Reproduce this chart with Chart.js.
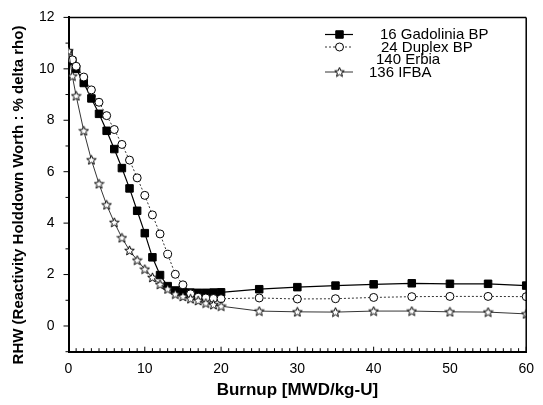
<!DOCTYPE html>
<html>
<head>
<meta charset="utf-8">
<script src="https://cdn.jsdelivr.net/npm/chart.js@4.4.1/dist/chart.umd.min.js"></script>
<style>
  html, body { margin: 0; padding: 0; background: #fff; }
  #wrap { width: 543px; height: 405px; }
</style>
</head>
<body>
<div id="wrap"><canvas id="myChart" width="543" height="405"></canvas></div>
<script>
	// burnup steps (MWD/kg-U)
	const burnup = [0, 0.5, 1, 2, 3, 4, 5, 6, 7, 8, 9, 10, 11, 12, 13, 14, 15, 16, 17, 18, 19, 20, 25, 30, 35, 40, 45, 50, 55, 60];

	// RHW (% delta rho)
	const gadoliniaRHW = [10.6, 10.3, 10.0, 9.45, 8.85, 8.25, 7.59, 6.88, 6.14, 5.35, 4.48, 3.61, 2.67, 1.98, 1.55, 1.38, 1.33, 1.30, 1.29, 1.29, 1.30, 1.31, 1.43, 1.51, 1.57, 1.62, 1.66, 1.64, 1.64, 1.57];
	const duplexRHW = [10.55, 10.35, 10.1, 9.68, 9.18, 8.70, 8.18, 7.64, 7.06, 6.45, 5.76, 5.08, 4.32, 3.58, 2.79, 2.01, 1.60, 1.25, 1.12, 1.09, 1.07, 1.06, 1.09, 1.05, 1.06, 1.11, 1.14, 1.15, 1.15, 1.14];
	const erbiaRHW = []; // in the legend only, no curve drawn
	const ifbaRHW = [10.7, 9.72, 8.95, 7.59, 6.46, 5.53, 4.71, 4.03, 3.43, 2.94, 2.56, 2.21, 1.89, 1.62, 1.44, 1.24, 1.15, 1.06, 0.99, 0.89, 0.83, 0.77, 0.58, 0.55, 0.54, 0.58, 0.58, 0.55, 0.54, 0.47];

	const seriesLabels = ['16 Gadolinia BP', '24 Duplex BP', '140 Erbia', '136 IFBA'];

	const xTickLabels = [0, 10, 20, 30, 40, 50, 60];
	const yTickLabels = [0, 2, 4, 6, 8, 10, 12];

	const yTitle = 'RHW (Reactivity Holddown Worth : % delta rho)';
	const FONT = 'Arial, "Liberation Sans", sans-serif';

	// open 5 point star marker
	function makeStar() {
		const c = document.createElement('canvas');
		c.width = 11; c.height = 11;
		const g = c.getContext('2d');
		g.beginPath();
		for (let i = 0; i < 10; i++) {
			const r = i % 2 ? 2.2 : 5;
			const a = -Math.PI / 2 + i * Math.PI / 5;
			g.lineTo(5.5 + r * Math.cos(a), 5.9 + r * Math.sin(a));
		}
		g.closePath();
		g.fillStyle = '#fff';
		g.fill();
		g.lineWidth = 1;
		g.strokeStyle = '#000';
		g.stroke();
		return c;
	}
	const starImg = makeStar();

	function toPoints(arr) {
		return arr.map((v, i) => ({ x: burnup[i], y: v }));
	}

	// frame, tick marks, y title and the legend
	const framePlugin = {
		id: 'frame',
		afterDraw(chart) {
			const { ctx, chartArea: a, scales } = chart;
			ctx.save();
			ctx.strokeStyle = '#000';
			ctx.lineWidth = 1.5;
			ctx.beginPath();
			ctx.moveTo(a.left, a.top); ctx.lineTo(a.right, a.top);
			ctx.moveTo(a.right, a.top); ctx.lineTo(a.right, a.bottom);
			ctx.stroke();

			ctx.lineWidth = 1;
			ctx.beginPath();
			for (let v = 0; v <= 60; v++) {
				const px = scales.x.getPixelForValue(v);
				const len = v % 10 === 0 ? 5 : 3.5;
				ctx.moveTo(px, a.bottom); ctx.lineTo(px, a.bottom - len);
			}
			for (let v = -1; v <= 12; v++) {
				const py = scales.y.getPixelForValue(v);
				const len = v % 2 === 0 ? 5 : 3;
				ctx.moveTo(a.left, py); ctx.lineTo(a.left - len, py);
			}
			ctx.stroke();

			// y axis title
			ctx.save();
			ctx.translate(19, 195);
			ctx.rotate(-Math.PI / 2);
			ctx.font = 'bold 15px ' + FONT;
			ctx.fillStyle = '#000';
			ctx.textAlign = 'center';
			ctx.textBaseline = 'middle';
			ctx.fillText(yTitle, 0, 0);
			ctx.restore();

			// legend
			const rowY = [34.5, 47, 59.5, 72];
			const textX = [380, 381, 376, 369];
			ctx.font = '15px ' + FONT;
			ctx.textBaseline = 'middle';
			chart.data.datasets.forEach((ds, i) => {
				const y = rowY[i];
				if (ds.data.length) {
					ctx.save();
					ctx.strokeStyle = '#000';
					ctx.lineWidth = ds.borderWidth;
					ctx.setLineDash(ds.borderDash || []);
					ctx.beginPath();
					ctx.moveTo(325, y); ctx.lineTo(353, y);
					ctx.stroke();
					ctx.restore();
					ctx.fillStyle = ds.pointBackgroundColor || '#fff';
					ctx.strokeStyle = '#000';
					Chart.helpers.drawPoint(ctx, {
						pointStyle: ds.pointStyle,
						radius: ds.pointRadius,
						rotation: 0,
						borderWidth: ds.pointBorderWidth
					}, 339.5, y);
				}
				ctx.fillStyle = '#000';
				ctx.fillText(ds.label, textX[i], y + 0.5);
			});
			ctx.restore();
		}
	};

	const ctx = document.querySelector('#myChart');
	const rhwChart = new Chart(ctx, {
		type: 'line',
		data: {
			datasets: [
				{
					label: seriesLabels[0],
					data: toPoints(gadoliniaRHW),
					borderColor: '#000',
					borderWidth: 1.2,
					pointStyle: 'rect',
					pointRadius: 5.3,
					pointBackgroundColor: '#000',
					pointBorderColor: '#000',
					pointBorderWidth: 1,
					order: 3
				},
				{
					label: seriesLabels[1],
					data: toPoints(duplexRHW),
					borderColor: '#000',
					borderWidth: 0.8,
					borderDash: [2, 2],
					pointStyle: 'circle',
					pointRadius: 4,
					pointBackgroundColor: '#fff',
					pointBorderColor: '#000',
					pointBorderWidth: 1,
					order: 2
				},
				{
					label: seriesLabels[2],
					data: toPoints(erbiaRHW),
					borderColor: 'rgba(0,0,0,0)',
					borderWidth: 0,
					pointRadius: 0,
					order: 4
				},
				{
					label: seriesLabels[3],
					data: toPoints(ifbaRHW),
					borderColor: '#000',
					borderWidth: 0.8,
					pointStyle: starImg,
					pointRadius: 5,
					pointBorderWidth: 1,
					order: 1
				}
			]
		},
		options: {
			responsive: false,
			animation: false,
			devicePixelRatio: 1,
			layout: { padding: { left: 0, right: 14.7, top: 12.3, bottom: 0 } },
			plugins: {
				legend: { display: false },
				tooltip: { enabled: false }
			},
			elements: { line: { tension: 0 } },
			scales: {
				x: {
					type: 'linear',
					min: 0,
					max: 60,
					afterBuildTicks: (s) => { s.ticks = xTickLabels.map(v => ({ value: v })); },
					afterFit: (s) => { s.height = 53.3; },
					ticks: {
						autoSkip: false,
						maxRotation: 0,
						padding: 9,
						color: '#000',
						font: { family: FONT, size: 14 }
					},
					grid: { display: false, drawTicks: false },
					border: { display: true, color: '#000', width: 2 },
					title: {
						display: true,
						text: 'Burnup [MWD/kg-U]',
						color: '#000',
						font: { family: FONT, size: 17, weight: 'bold' },
						padding: { top: 4, bottom: 4 }
					}
				},
				y: {
					min: -1,
					max: 12,
					afterBuildTicks: (s) => { s.ticks = yTickLabels.map(v => ({ value: v })); },
					afterFit: (s) => { s.width = 68.5; },
					ticks: {
						padding: 9,
						color: '#000',
						font: { family: FONT, size: 14 }
					},
					grid: { display: false, drawTicks: true, tickLength: 5 },
					border: { display: true, color: '#000', width: 2 },
					title: { display: false }
				}
			}
		},
		plugins: [framePlugin]
	});
</script>
</body>
</html>
